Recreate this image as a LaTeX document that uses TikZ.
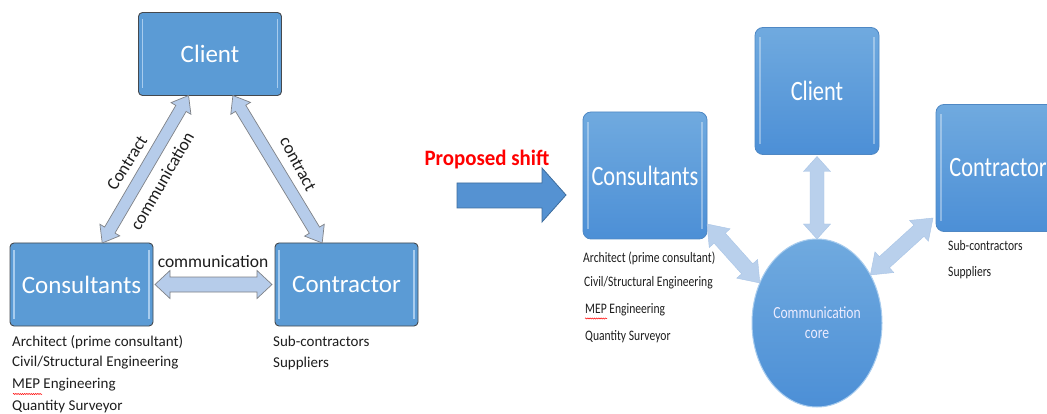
\documentclass[tikz,border=0pt]{standalone}
\usepackage{fontspec}
\usepackage{graphicx}
\setmainfont{Carlito}
\usetikzlibrary{calc,shapes.geometric,decorations.pathmorphing}
\definecolor{boxblue}{HTML}{5B9BD5}
\definecolor{boxedge}{HTML}{45494E}
\definecolor{hlcol}{HTML}{A8CCEE}
\definecolor{rtop}{HTML}{70AADF}
\definecolor{rbot}{HTML}{4C8FD6}
\definecolor{rboxedge}{HTML}{4F88C4}
\definecolor{larrfill}{HTML}{B6CCEA}
\definecolor{larredge}{HTML}{7F8287}
\definecolor{rarrfill}{HTML}{B9D0EC}
\definecolor{rarredge}{HTML}{A9C4E6}
\definecolor{bigarr}{HTML}{5592D2}
\definecolor{bigarredge}{HTML}{3F6E9E}
\definecolor{txtdark}{HTML}{1E1E1E}
\newcommand\sq[1]{\scalebox{0.8}[1]{#1}}
% double arrow polygon between two named points
\newcommand\dblarrow[6][]{%
  \draw[#1] (#2) -- ($(#2)!#4!(#3)!#5!90:(#3)$) -- ($(#2)!#4!(#3)!#6!90:(#3)$)
   -- ($(#3)!#4!(#2)!#6!-90:(#2)$) -- ($(#3)!#4!(#2)!#5!-90:(#2)$) -- (#3)
   -- ($(#3)!#4!(#2)!#5!90:(#2)$) -- ($(#3)!#4!(#2)!#6!90:(#2)$)
   -- ($(#2)!#4!(#3)!#6!-90:(#3)$) -- ($(#2)!#4!(#3)!#5!-90:(#3)$) -- cycle;}
\begin{document}
\begin{tikzpicture}[x=1pt,y=-1pt,
  lbox/.style={draw=boxedge, line width=0.9pt, fill=boxblue, rounded corners=4pt,
    inner sep=0pt, outer sep=0pt, minimum width=143pt, minimum height=83pt,
    text=white, font=\fontsize{25}{28}\selectfont},
  rbox/.style={draw=rboxedge, line width=0.8pt, top color=rtop, bottom color=rbot,
    rounded corners=8pt, inner sep=0pt, outer sep=0pt, minimum width=124pt,
    minimum height=127pt, text=white, font=\fontsize{28}{32}\selectfont},
  corestyle/.style={ellipse, draw=hlcol, line width=1pt, top color=rtop, bottom color=rbot,
    inner sep=0pt, outer sep=0pt, minimum width=130pt, minimum height=168pt,
    text=white!92!blue, align=center, font=\fontsize{17}{20}\selectfont},
  hlline/.style={draw=hlcol, line width=1.3pt},
  rhlline/.style={draw=white, opacity=0.35, line width=1.5pt},
  larr/.style={fill=larrfill, draw=larredge, line width=0.7pt, line join=miter},
  rarr/.style={fill=rarrfill, draw=rarredge, line width=0.4pt, line join=miter},
  lbl/.style={inner sep=0pt, text=txtdark, font=\fontsize{17.5}{20}\selectfont},
  lst/.style={anchor=west, inner sep=0pt, text=txtdark, font=\fontsize{15}{18}\selectfont},
  rlst/.style={anchor=west, inner sep=0pt, text=txtdark, font=\fontsize{14.5}{17}\selectfont},
  squig/.style={draw=red, line width=0.5pt, decorate,
    decoration={snake, amplitude=0.6pt, segment length=2.2pt}}
]
\useasboundingbox (0,0) rectangle (1047,414);
\clip (0,0) rectangle (1047,414);
\fill[white] (0,0) rectangle (1047,414);

% ---------------- left diagram ----------------
\node[lbox] (lclient) at (210,54) {Client};
\node[lbox] (lcons) at (81.5,284.5) {Consultants};
\node[lbox] (lcont) at (346.5,284.5) {Contractor};
\foreach \n in {lclient,lcons,lcont}{
  \draw[hlline] ([xshift=4pt,yshift=-7pt]\n.north west) -- ([xshift=4pt,yshift=7pt]\n.south west);
  \draw[hlline] ([xshift=-4pt,yshift=-7pt]\n.north east) -- ([xshift=-4pt,yshift=7pt]\n.south east);
}

\coordinate (a1s) at ($(lcons.north west)!0.645!(lcons.north east)$);
\coordinate (a1e) at ($(lclient.south west)!0.35!(lclient.south east)$);
\coordinate (a2s) at ($(lclient.south west)!0.66!(lclient.south east)$);
\coordinate (a2e) at ($(lcont.north west)!0.33!(lcont.north east)$);
\coordinate (a3s) at ([xshift=2pt]lcons.east);
\coordinate (a3e) at ([xshift=-3pt]lcont.west);
\dblarrow[larr]{a1s}{a1e}{15pt}{11.5pt}{6pt}
\dblarrow[larr]{a2s}{a2e}{15pt}{11.5pt}{6pt}
\dblarrow[larr]{a3s}{a3e}{15pt}{14pt}{7.5pt}

\node[lbl, rotate=58] (lb1) at (127,163) {Contract};
\node[lbl, rotate=60] (lb2) at (162,181) {communication};
\node[lbl, rotate=-62] (lb3) at (298,164) {contract};
\node[lbl] (lb4) at (213,262) {communication};

\node[lst] (l1) at (12,342) {Architect (prime consultant)};
\node[lst] (l2) at (12,363) {Civil/Structural Engineering};
\node[lst] (l3) at (12,385) {MEP Engineering};
\node[lst] (l4) at (12,407) {Quantity Surveyor};
\draw[squig] (13,394) -- (42,394);
\node[lst] (l5) at (273,341) {Sub-contractors};
\node[lst] (l6) at (273,363) {Suppliers};

% ---------------- proposed shift ----------------
\node[inner sep=0pt, text=red, font=\fontsize{22}{26}\selectfont\bfseries] (shift) at (487,160)
  {\scalebox{0.95}[1]{Proposed shift}};
\draw[fill=bigarr, draw=bigarredge, line width=0.8pt, line join=miter]
  (457,183) -- (542,183) -- (542,168) -- (566,195) -- (542,222) -- (542,208) -- (457,208) -- cycle;

% ---------------- right diagram ----------------
\node[rbox] (rcons) at (645,175.5) {\sq{Consultants}};
\node[rbox] (rclient) at (817,91) {\sq{Client}};
\node[rbox] (rcont) at (998,168) {\sq{Contractor}};
\foreach \n in {rcons,rclient,rcont}{
  \draw[rhlline] ([xshift=5pt,yshift=-10pt]\n.north west) -- ([xshift=5pt,yshift=10pt]\n.south west);
  \draw[rhlline] ([xshift=-5pt,yshift=-10pt]\n.north east) -- ([xshift=-5pt,yshift=10pt]\n.south east);
}
\node[corestyle] (core) at (817,323) {\sq{Communication}\\\sq{core}};

\coordinate (b1s) at ([yshift=-2pt]rclient.south);
\coordinate (b1e) at (core.north);
\coordinate (b2s) at ([yshift=15pt]rcons.south east);
\coordinate (b2e) at (core.145);
\coordinate (b3s) at (core.42);
\coordinate (b3e) at ([xshift=-3pt,yshift=-50pt]rcont.west);
\dblarrow[rarr]{b1s}{b1e}{15pt}{13.5pt}{7pt}
\dblarrow[rarr]{b2s}{b2e}{19pt}{14pt}{7.5pt}
\dblarrow[rarr]{b3s}{b3e}{19pt}{14pt}{7.5pt}

\node[rlst] (r1) at (583,258) {\sq{Architect (prime consultant)}};
\node[rlst] (r2) at (584,283) {\sq{Civil/Structural Engineering}};
\node[rlst] (r3) at (585,310) {\sq{MEP Engineering}};
\node[rlst] (r4) at (585,337) {\sq{Quantity Surveyor}};
\draw[squig] (585,318.5) -- (607,318.5);
\node[rlst] (r5) at (948,246) {\sq{Sub-contractors}};
\node[rlst] (r6) at (948,273) {\sq{Suppliers}};
\end{tikzpicture}
\end{document}
